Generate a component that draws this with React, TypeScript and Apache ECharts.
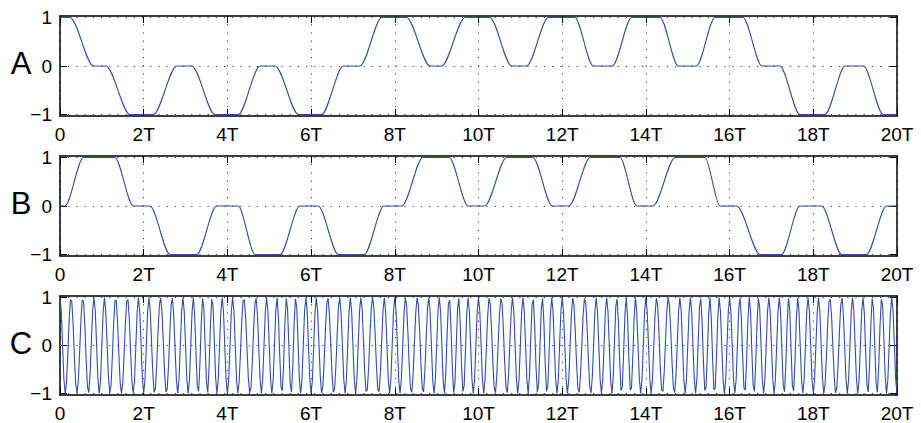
import React, { useEffect, useRef } from "react";
import * as echarts from "echarts";

// Horizontal axis: symbol periods
const xTickValues = [0, 2, 4, 6, 8, 10, 12, 14, 16, 18, 20];
const yTickValues = [-1, 0, 1];
const panelNames = ["A", "B", "C"];

// In-phase component: plateau edges (time in T, level)
const timesA = [
  0, 0.24, 0.8, 1.1, 1.67, 2.23, 2.79, 3.15, 3.7, 4.26, 4.78, 5.14, 5.7, 6.25,
  6.77, 7.17, 7.69, 8.28, 8.84, 9.12, 9.68, 10.27, 10.79, 11.15, 11.67, 12.3,
  12.74, 13.2, 13.66, 14.34, 14.77, 15.21, 15.65, 16.32, 16.77, 17.2, 17.68,
  18.28, 18.76, 19.2, 19.67, 20,
];
const levelsA = [
  1, 1, 0, 0, -1, -1, 0, 0, -1, -1, 0, 0, -1, -1, 0, 0, 1, 1, 0, 0, 1, 1, 0, 0,
  1, 1, 0, 0, 1, 1, 0, 0, 1, 1, 0, 0, -1, -1, 0, 0, -1, -1,
];

// Quadrature component: plateau edges (time in T, level)
const timesB = [
  0, 0.12, 0.56, 1.31, 1.75, 2.15, 2.63, 3.27, 3.74, 4.26, 4.66, 5.26, 5.73,
  6.17, 6.65, 7.27, 7.74, 8.17, 8.67, 9.3, 9.75, 10.15, 10.67, 11.3, 11.76,
  12.16, 12.67, 13.38, 13.78, 14.17, 14.7, 15.41, 15.77, 16.17, 16.73, 17.24,
  17.68, 18.2, 18.68, 19.27, 19.75, 20,
];
const levelsB = [
  0, 0, 1, 1, 0, 0, -1, -1, 0, 0, -1, -1, 0, 0, -1, -1, 0, 0, 1, 1, 0, 0, 1, 1,
  0, 0, 1, 1, 0, 0, 1, 1, 0, 0, -1, -1, 0, 0, -1, -1, 0, 0,
];

// Carrier used for the modulated signal
const carrierCyclesPerT = 4;
const samplesPerT = 32;
const totalT = 20;

const LINE_COLOR = "#2f4fa8";
const FONT = "Liberation Sans";

function levelAt(times: number[], levels: number[], t: number): number {
  for (let i = 1; i < times.length; i++) {
    if (t <= times[i]) {
      const t0 = times[i - 1];
      const t1 = times[i];
      const f = t1 === t0 ? 0 : (t - t0) / (t1 - t0);
      return levels[i - 1] + (levels[i] - levels[i - 1]) * f;
    }
  }
  return levels[levels.length - 1];
}

function modulatedSignal(): number[][] {
  const out: number[][] = [];
  const n = totalT * samplesPerT;
  for (let i = 0; i <= n; i++) {
    const t = i / samplesPerT;
    const a = levelAt(timesA, levelsA, t);
    const b = levelAt(timesB, levelsB, t);
    const phase = Math.atan2(b, a);
    out.push([t, Math.cos(2 * Math.PI * carrierCyclesPerT * t - phase)]);
  }
  return out;
}

const pairs = (ts: number[], vs: number[]) => ts.map((t, i) => [t, vs[i]]);

export default function App() {
  const ref = useRef<HTMLDivElement>(null);

  useEffect(() => {
    if (!ref.current) return;
    const chart = echarts.init(ref.current, undefined, { renderer: "svg" });

    const tops = [16, 156, 296];
    const panelHeight = 100;
    const grids = tops.map((top) => ({
      left: 60,
      right: 24,
      top,
      height: panelHeight,
      show: false,
    }));

    const tickStyle = { color: "#000", width: 1 };
    const frameStyle = { color: "#000", width: 1.5 };
    const dotted = { color: "#444", width: 1, type: [1.2, 7] as number[] };

    const xAxes: any[] = [];
    const yAxes: any[] = [];
    tops.forEach((_, i) => {
      const base = {
        type: "value",
        gridIndex: i,
        min: xTickValues[0],
        max: xTickValues[xTickValues.length - 1],
        interval: 2,
        axisLine: { show: true, onZero: false, lineStyle: frameStyle },
        axisTick: { show: true, inside: true, length: 7, lineStyle: tickStyle },
      };
      xAxes.push({
        ...base,
        position: "bottom",
        splitLine: { show: true, lineStyle: dotted },
        axisLabel: {
          show: true,
          margin: 9,
          fontSize: 19,
          fontFamily: FONT,
          color: "#000",
          showMinLabel: true,
          showMaxLabel: true,
          formatter: (v: number) => (v === 0 ? "0" : `${v}T`),
        },
      });
      xAxes.push({
        ...base,
        position: "top",
        splitLine: { show: false },
        axisLabel: { show: false },
      });
      const yBase = {
        type: "value",
        gridIndex: i,
        min: -1.03,
        max: 1.03,
        splitLine: { show: false },
        axisLine: { show: true, onZero: false, lineStyle: frameStyle },
        axisTick: {
          show: true,
          inside: true,
          length: 7,
          customValues: yTickValues,
          lineStyle: tickStyle,
        },
      };
      yAxes.push({
        ...yBase,
        position: "left",
        axisLabel: {
          show: true,
          margin: 8,
          fontSize: 19,
          fontFamily: FONT,
          color: "#000",
          customValues: yTickValues,
          formatter: (v: number) => (v < 0 ? `\u2212${Math.abs(v)}` : `${v}`),
        },
      });
      yAxes.push({
        ...yBase,
        position: "right",
        axisLabel: { show: false },
      });
    });

    const gridMarks = {
      silent: true,
      symbol: "none",
      label: { show: false },
      lineStyle: dotted,
      data: yTickValues.map((v) => ({ yAxis: v })),
    };

    const panelData = [
      pairs(timesA, levelsA),
      pairs(timesB, levelsB),
      modulatedSignal(),
    ];

    const series = panelData.map((data, i) => ({
      type: "line",
      xAxisIndex: 2 * i,
      yAxisIndex: 2 * i,
      data,
      showSymbol: false,
      smooth: i < 2 ? 0.3 : false,
      smoothMonotone: i < 2 ? "x" : undefined,
      lineStyle: { color: LINE_COLOR, width: 1.1 },
      markLine: gridMarks,
    }));

    const graphic = panelNames.map((name, i) => ({
      type: "text",
      x: 21,
      y: tops[i] + 47,
      style: {
        text: name,
        fontSize: 31,
        fontFamily: FONT,
        fill: "#000",
        align: "center",
        verticalAlign: "middle",
      },
    }));

    chart.setOption({
      animation: false,
      backgroundColor: "#fff",
      grid: grids,
      xAxis: xAxes,
      yAxis: yAxes,
      series,
      graphic,
    });

    return () => chart.dispose();
  }, []);

  return (
    <div
      ref={ref}
      style={{ position: "absolute", left: 0, top: 0, width: 921, height: 423 }}
    />
  );
}
